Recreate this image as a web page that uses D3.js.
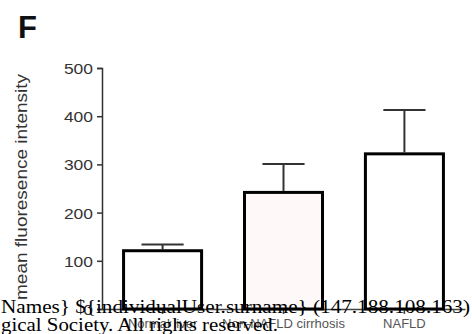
<!DOCTYPE html>
<html>
<head>
<meta charset="utf-8">
<script src="https://cdn.jsdelivr.net/npm/d3@7"></script>
<style>
  html, body { margin: 0; padding: 0; background: #fff; }
  svg { display: block; }
</style>
</head>
<body>
<svg id="chart" width="472" height="334"></svg>
<script>
// Panel F: mean fluorescence intensity by liver group (mean + SEM)
const categories = ["Normal liver", "Non-NAFLD cirrhosis", "NAFLD"];
const means = [124, 245, 325];
const sems = [10, 56, 88];
const fills = ["#ffffff", "#fff8f8", "#ffffff"];
const yTicks = [0, 100, 200, 300, 400, 500];
const watermarkLines = [
  "Names} ${individualUser.surname} (147.188.108.163)",
  "gical Society. All rights reserved."
];
const watermarkWidths = [469, 277];

const svg = d3.select("#chart");

const x = d3.scaleBand()
  .domain(categories)
  .range([102, 465])
  .paddingInner(0.33)
  .paddingOuter(0.166);

const y = d3.scaleLinear().domain([0, 500]).range([309, 68]);

// Panel letter
svg.append("text")
  .attr("x", 18).attr("y", 38)
  .attr("font-family", "Liberation Sans, Arial, sans-serif")
  .attr("font-weight", "bold")
  .attr("font-size", 31)
  .attr("fill", "#111")
  .text("F");

// Y axis
const yAxis = svg.append("g")
  .attr("transform", "translate(102,0)")
  .call(d3.axisLeft(y).tickValues(yTicks).tickSize(5).tickPadding(4).tickFormat(d3.format("d")));
yAxis.select(".domain").attr("stroke", "#333").attr("stroke-width", 1.5);
yAxis.selectAll(".tick line").attr("stroke", "#333").attr("stroke-width", 1.5);
yAxis.selectAll(".tick text")
  .attr("font-family", "Liberation Sans, Arial, sans-serif")
  .attr("font-size", 15)
  .attr("fill", "#333")
  .attr("dy", "0.36em")
  .attr("textLength", (d) => String(d).length * 9.7)
  .attr("lengthAdjust", "spacingAndGlyphs");

// X axis
const xAxis = svg.append("g")
  .attr("transform", "translate(0,309)")
  .call(d3.axisBottom(x).tickSize(5).tickPadding(7).tickSizeOuter(0));
xAxis.select(".domain").attr("stroke", "#444").attr("stroke-width", 1.5);
xAxis.selectAll(".tick line").attr("stroke", "#444").attr("stroke-width", 1.5);
xAxis.selectAll(".tick text")
  .attr("font-family", "Liberation Sans, Arial, sans-serif")
  .attr("font-size", 13)
  .attr("fill", "#555")
  .attr("dy", "0.55em");

// Y axis title
svg.append("text")
  .attr("transform", "translate(27,187) rotate(-90)")
  .attr("text-anchor", "middle")
  .attr("font-family", "Liberation Sans, Arial, sans-serif")
  .attr("font-size", 16)
  .attr("fill", "#333")
  .attr("textLength", 226)
  .attr("lengthAdjust", "spacingAndGlyphs")
  .text("mean fluoresence intensity");

// Error bars (upper whisker only)
const capHalf = x.bandwidth() * 0.26;
const eb = svg.append("g").attr("stroke", "#333").attr("stroke-width", 2);
categories.forEach((c, i) => {
  const cx = x(c) + x.bandwidth() / 2;
  eb.append("line")
    .attr("x1", cx).attr("x2", cx)
    .attr("y1", y(means[i])).attr("y2", y(means[i] + sems[i]));
  eb.append("line")
    .attr("x1", cx - capHalf).attr("x2", cx + capHalf)
    .attr("y1", y(means[i] + sems[i])).attr("y2", y(means[i] + sems[i]));
});

// Bars
svg.append("g")
  .selectAll("rect")
  .data(categories)
  .join("rect")
  .attr("x", (d) => x(d) + 1.5)
  .attr("width", x.bandwidth() - 3)
  .attr("y", (d, i) => y(means[i]) + 1.5)
  .attr("height", (d, i) => y(0) - y(means[i]) - 1.5)
  .attr("fill", (d, i) => fills[i])
  .attr("stroke", "#000")
  .attr("stroke-width", 3);

// Footer text lines
svg.append("g")
  .selectAll("text")
  .data(watermarkLines)
  .join("text")
  .attr("x", 1)
  .attr("y", (d, i) => 312.5 + i * 18.5)
  .attr("font-family", "Liberation Serif, Times New Roman, serif")
  .attr("font-size", 19)
  .attr("fill", "#000")
  .attr("textLength", (d, i) => watermarkWidths[i])
  .attr("lengthAdjust", "spacingAndGlyphs")
  .text((d) => d);
</script>
</body>
</html>
